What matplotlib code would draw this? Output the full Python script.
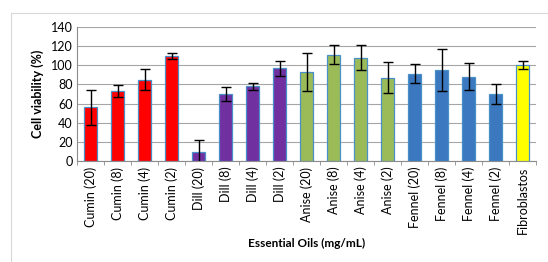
import numpy as np
import matplotlib.pyplot as plt
from matplotlib.lines import Line2D

labels = ["Cumin (20)", "Cumin (8)", "Cumin (4)", "Cumin (2)",
          "Dill (20)", "Dill (8)", "Dill (4)", "Dill (2)",
          "Anise (20)", "Anise (8)", "Anise (4)", "Anise (2)",
          "Fennel (20)", "Fennel (8)", "Fennel (4)", "Fennel (2)",
          "Fibroblastos"]
viability = [56, 73, 85, 110, 9, 70, 78, 97, 93, 111, 108, 87, 91, 95, 88, 70, 100]
errors = [18, 6, 11, 3, 13, 7, 4, 8, 20, 10, 13, 16, 10, 22, 14, 10, 4]
colors = ["#FF0000"] * 4 + ["#7030A0"] * 4 + ["#9BBB59"] * 4 + ["#3C78C0"] * 4 + ["#FFFF00"]

plt.rcParams['font.family'] = ['Lato', 'DejaVu Sans']

W, H = 548, 262
fig = plt.figure(figsize=(W / 100, H / 100), dpi=100)
ax = fig.add_axes([77 / W, 1 - 161 / H, (536 - 77) / W, (161 - 27) / H])

x = np.arange(len(labels))
ax.bar(x, viability, width=0.45, color=colors, edgecolor="#4A90C8", linewidth=0.9,
       yerr=errors, capsize=3.5, error_kw=dict(elinewidth=1, capthick=1, ecolor="black"),
       zorder=3)

ax.set_xlim(-0.5, len(labels) - 0.5)
ax.set_ylim(0, 140)
ax.set_yticks(range(0, 141, 20))
ax.yaxis.grid(True, color="#A6A6A6", linewidth=0.8, zorder=0)
ax.set_xticks(x)
ax.set_xticklabels(labels, rotation=90, fontsize=9)
ax.tick_params(axis="x", length=0, pad=4)
ax.tick_params(axis="y", length=0, labelsize=9, pad=3)
ax.set_xticks(np.arange(-0.5, len(labels), 1), minor=True)
ax.tick_params(axis="x", which="minor", length=3, color="#8C8C8C")

for s in ["top", "right"]:
    ax.spines[s].set_visible(False)
for s in ["left", "bottom"]:
    ax.spines[s].set_color("#8C8C8C")
    ax.spines[s].set_linewidth(0.8)

ax.set_ylabel("Cell viability (%)", fontsize=9, fontweight="bold", labelpad=5)
fig.text(307 / W, 1 - 243 / H, "Essential Oils (mg/mL)", fontsize=8.5,
         fontweight="bold", ha="center", va="center")

# outer chart frame (left and top edges visible)
fig.add_artist(Line2D([11 / W, 11 / W], [0, 1 - 13 / H], transform=fig.transFigure,
                      color="#D9D9D9", linewidth=0.8))
fig.add_artist(Line2D([11 / W, 1], [1 - 13 / H, 1 - 13 / H], transform=fig.transFigure,
                      color="#D9D9D9", linewidth=0.8))

fig.savefig("out.png", dpi=100)
